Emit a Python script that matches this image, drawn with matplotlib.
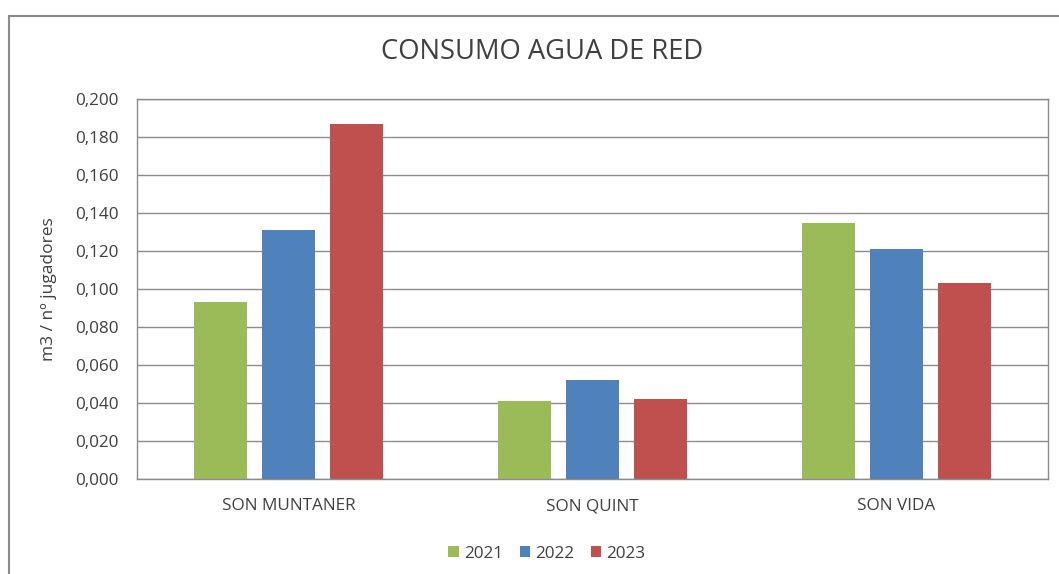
import numpy as np
import matplotlib
matplotlib.use("Agg")
import matplotlib.pyplot as plt
from matplotlib.patches import Rectangle
from matplotlib.ticker import FuncFormatter

plt.rcParams['font.family'] = ['Open Sans', 'DejaVu Sans']

# Data
campos = ["SON MUNTANER", "SON QUINT", "SON VIDA"]
anios = ["2021", "2022", "2023"]
v2021 = [0.093, 0.041, 0.135]
v2022 = [0.131, 0.052, 0.121]
v2023 = [0.187, 0.042, 0.103]
colores = ["#9BBB59", "#4F81BD", "#C0504D"]

fig = plt.figure(figsize=(10.59, 5.74), dpi=100)
ax = fig.add_axes([0.1294, 0.1655, 0.8602, 0.662])

# outer chart border (runs off the right/bottom of the screenshot)
top = 1 - 16 / 574
fig.patches.append(Rectangle((8.5 / 1059, -0.05), 1.1, top + 0.05,
                             transform=fig.transFigure, fill=False,
                             edgecolor="#8a8a8a", linewidth=1.5))

x = np.arange(len(campos))
ancho = 0.175
paso = 0.224
for i, (serie, anio) in enumerate(zip([v2021, v2022, v2023], anios)):
    ax.bar(x + (i - 1) * paso, serie, width=ancho, color=colores[i], label=anio, zorder=2)

ax.set_xlim(-0.5, 2.5)
ax.set_ylim(0, 0.2)
ax.set_yticks(np.arange(0, 0.2001, 0.02))
ax.yaxis.set_major_formatter(FuncFormatter(lambda v, p: f"{v:.3f}".replace(".", ",")))
ax.set_xticks(x)
ax.set_xticklabels(campos)
ax.tick_params(axis="both", length=0, labelsize=12.3, colors="#404040")
ax.tick_params(axis="x", pad=14)
ax.tick_params(axis="y", pad=13)
ax.grid(axis="y", color="#8c8c8c", linewidth=1, zorder=0)
for s in ax.spines.values():
    s.set_color("#8c8c8c")
    s.set_linewidth(1)

ax.set_ylabel("m3 / nº jugadores", fontsize=12.5, color="#404040", labelpad=13)
fig.text(0.512, 0.91, "CONSUMO AGUA DE RED", ha="center", va="center",
         fontsize=19.7, color="#404040")

ax.legend(loc="upper center", bbox_to_anchor=(0.45, -0.135), ncol=3, frameon=False,
          fontsize=12.3, handlelength=0.6, handleheight=0.6, handletextpad=0.3,
          columnspacing=1.0, labelcolor="#404040")

fig.savefig("out.png", dpi=100)
